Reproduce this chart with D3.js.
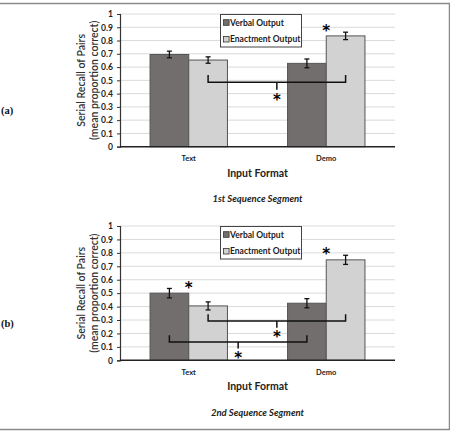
<!DOCTYPE html>
<html>
<head>
<meta charset="utf-8">
<script src="https://cdn.jsdelivr.net/npm/d3@7"></script>
<style>
  body { margin: 0; background: #fff; }
  svg { display: block; }
</style>
</head>
<body>
<div id="chart"></div>
<script>
// Two-panel serial recall bar chart, drawn with d3.

var categories = ['Text', 'Demo'];
var seriesNames = ['Verbal Output', 'Enactment Output'];
var yTicks = [0, 0.1, 0.2, 0.3, 0.4, 0.5, 0.6, 0.7, 0.8, 0.9, 1];
var yTickLabels = ['0', '0.1', '0.2', '0.3', '0.4', '0.5', '0.6', '0.7', '0.8', '0.9', '1'];

// panel (a) - 1st sequence segment
var verbalA = [0.695, 0.628];
var enactA = [0.653, 0.835];
var verbalErrA = [0.025, 0.033];
var enactErrA = [0.024, 0.028];
// panel (b) - 2nd sequence segment
var verbalB = [0.5, 0.425];
var enactB = [0.405, 0.748];
var verbalErrB = [0.035, 0.034];
var enactErrB = [0.03, 0.034];

// significance brackets: [fromCat, fromSeries, toCat, toSeries, level, endTop, midBottom, starValue]
var bracketsA = [[0, 1, 1, 1, 0.485, 0.54, 0.43, 0.385]];
var bracketsB = [[0, 1, 1, 1, 0.292, 0.343, 0.243, 0.2],
                 [0, 0, 1, 0, 0.137, 0.187, 0.087, 0.045]];
// stars above a category: [cat, value]
var starsA = [[1, 0.9]];
var starsB = [[0, 0.565], [1, 0.82]];

var W = 450, H = 432;
var svg = d3.select('#chart').append('svg').attr('width', W).attr('height', H);

var font = 'Lato, "Open Sans", sans-serif';
var verbalColor = '#726e6e';
var enactColor = '#d2d2d2';

// outer frame (top, right, bottom)
svg.append('path')
    .attr('d', 'M0,3.5H449.5V429.5H0')
    .attr('fill', 'none')
    .attr('stroke', '#8a8a8a')
    .attr('stroke-width', 1.5);

function star(g, x, yv) {
    g.append('text')
        .attr('x', x).attr('y', yv + 9)
        .attr('text-anchor', 'middle')
        .attr('font-family', '"DejaVu Sans", sans-serif')
        .attr('font-size', '15px')
        .attr('font-weight', 'bold')
        .attr('fill', '#000')
        .text('*');
}

function drawPanel(top, bottom, verbal, enact, verbalErr, enactErr, brackets, stars, letter, caption) {
    var x0 = d3.scaleBand().domain(categories).range([120, 395])
        .paddingInner(0.437).paddingOuter(0.2185);
    var x1 = d3.scaleBand().domain(seriesNames).range([0, x0.bandwidth()]);
    var y = d3.scaleLinear().domain([0, 1]).range([bottom, top]);

    var g = svg.append('g');

    // gridlines
    g.selectAll('line.grid')
        .data(yTicks.slice(1))
        .join('line')
        .attr('x1', 120).attr('x2', 395)
        .attr('y1', function (d) { return y(d); })
        .attr('y2', function (d) { return y(d); })
        .attr('stroke', '#dadada')
        .attr('stroke-width', 1);

    // y axis
    var ax = g.append('g')
        .attr('transform', 'translate(120,0)')
        .call(d3.axisLeft(y).tickValues(yTicks).tickSize(3).tickPadding(4)
            .tickFormat(function (d, i) { return yTickLabels[i]; }));
    ax.select('.domain').attr('stroke', '#333').attr('stroke-width', 1.2);
    ax.selectAll('.tick line').attr('stroke', '#333');
    ax.selectAll('text')
        .attr('font-family', font)
        .attr('font-size', '8.5px')
        .attr('font-weight', 'bold')
        .attr('fill', '#222');

    // bars
    var rows = categories.map(function (c, i) {
        return [
            { cat: c, s: seriesNames[0], v: verbal[i], e: verbalErr[i], color: verbalColor },
            { cat: c, s: seriesNames[1], v: enact[i], e: enactErr[i], color: enactColor }
        ];
    });
    var flat = [].concat.apply([], rows);

    g.selectAll('rect.bar')
        .data(flat)
        .join('rect')
        .attr('x', function (d) { return x0(d.cat) + x1(d.s); })
        .attr('y', function (d) { return y(d.v); })
        .attr('width', x1.bandwidth())
        .attr('height', function (d) { return y(0) - y(d.v); })
        .attr('fill', function (d) { return d.color; })
        .attr('stroke', '#555')
        .attr('stroke-width', 1);

    // x baseline
    g.append('line')
        .attr('x1', 120).attr('x2', 395)
        .attr('y1', y(0)).attr('y2', y(0))
        .attr('stroke', '#222').attr('stroke-width', 1.5);

    // error bars
    var eb = g.selectAll('g.err').data(flat).join('g')
        .attr('stroke', '#111').attr('stroke-width', 1.3);
    function cx(d) { return x0(d.cat) + x1(d.s) + x1.bandwidth() / 2; }
    eb.append('line')
        .attr('x1', cx).attr('x2', cx)
        .attr('y1', function (d) { return y(d.v + d.e); })
        .attr('y2', function (d) { return y(d.v - d.e); });
    eb.append('line')
        .attr('x1', function (d) { return cx(d) - 2.5; }).attr('x2', function (d) { return cx(d) + 2.5; })
        .attr('y1', function (d) { return y(d.v + d.e); })
        .attr('y2', function (d) { return y(d.v + d.e); });
    eb.append('line')
        .attr('x1', function (d) { return cx(d) - 2.5; }).attr('x2', function (d) { return cx(d) + 2.5; })
        .attr('y1', function (d) { return y(d.v - d.e); })
        .attr('y2', function (d) { return y(d.v - d.e); });

    // significance brackets
    brackets.forEach(function (b) {
        var xa = x0(categories[b[0]]) + x1(seriesNames[b[1]]) + x1.bandwidth() / 2;
        var xb = x0(categories[b[2]]) + x1(seriesNames[b[3]]) + x1.bandwidth() / 2;
        var xm = (xa + xb) / 2;
        g.append('path')
            .attr('d', 'M' + xa + ',' + y(b[5]) + 'V' + y(b[4]) + 'H' + xb + 'V' + y(b[5]) +
                'M' + xm + ',' + y(b[4]) + 'V' + y(b[6]))
            .attr('fill', 'none')
            .attr('stroke', '#111')
            .attr('stroke-width', 1.5);
        star(g, xm, y(b[7]));
    });

    stars.forEach(function (s) {
        star(g, x0(categories[s[0]]) + x0.bandwidth() / 2, y(s[1]));
    });

    // category labels
    g.selectAll('text.cat')
        .data(categories)
        .join('text')
        .attr('x', function (d) { return x0(d) + x0.bandwidth() / 2; })
        .attr('y', bottom + 14.5)
        .attr('text-anchor', 'middle')
        .attr('font-family', font)
        .attr('font-size', '7.5px')
        .attr('font-weight', 'bold')
        .attr('fill', '#222')
        .text(function (d) { return d; });

    g.append('text')
        .attr('x', 257.5).attr('y', bottom + 30)
        .attr('text-anchor', 'middle')
        .attr('font-family', font)
        .attr('font-size', '10.5px')
        .attr('font-weight', 'bold')
        .attr('fill', '#222')
        .text('Input Format');

    g.append('text')
        .attr('x', 257.5).attr('y', bottom + 55.5)
        .attr('text-anchor', 'middle')
        .attr('font-family', font)
        .attr('font-size', '9.5px')
        .attr('font-weight', 'bold')
        .attr('font-style', 'italic')
        .attr('fill', '#222')
        .text(caption);

    // y title, two lines
    var ymid = (top + bottom) / 2;
    [['Serial Recall of Pairs', 85], ['(mean proportion correct)', 97.5]].forEach(function (t) {
        g.append('text')
            .attr('transform', 'translate(' + t[1] + ',' + ymid + ') rotate(-90)')
            .attr('text-anchor', 'middle')
            .attr('font-family', font)
            .attr('font-size', '10.5px')
            .attr('font-weight', '600')
            .attr('fill', '#333')
            .text(t[0]);
    });

    // panel letter
    g.append('text')
        .attr('x', 1).attr('y', ymid + 34)
        .attr('font-family', '"Liberation Serif", serif')
        .attr('font-size', '10.5px')
        .attr('font-weight', 'bold')
        .attr('fill', '#111')
        .text(letter);

    // legend
    var lg = g.append('g').attr('transform', 'translate(220,' + top + ')');
    lg.append('rect')
        .attr('x', 0.5).attr('y', 0.5).attr('width', 81).attr('height', 32.5)
        .attr('fill', '#fff').attr('stroke', '#444').attr('stroke-width', 1);
    seriesNames.forEach(function (s, i) {
        var ly = 8.5 + i * 16.7;
        lg.append('rect')
            .attr('x', 3.5).attr('y', ly - 2.8).attr('width', 5.6).attr('height', 5.6)
            .attr('fill', i === 0 ? verbalColor : enactColor)
            .attr('stroke', '#333').attr('stroke-width', 0.8);
        lg.append('text')
            .attr('x', 10).attr('y', ly + 3)
            .attr('font-family', font)
            .attr('font-size', '8.5px')
            .attr('font-weight', 'bold')
            .attr('fill', '#222')
            .text(s);
    });
}

drawPanel(14, 146.7, verbalA, enactA, verbalErrA, enactErrA, bracketsA, starsA, '(a)', '1st Sequence Segment');
drawPanel(226, 360.3, verbalB, enactB, verbalErrB, enactErrB, bracketsB, starsB, '(b)', '2nd Sequence Segment');
</script>
</body>
</html>
